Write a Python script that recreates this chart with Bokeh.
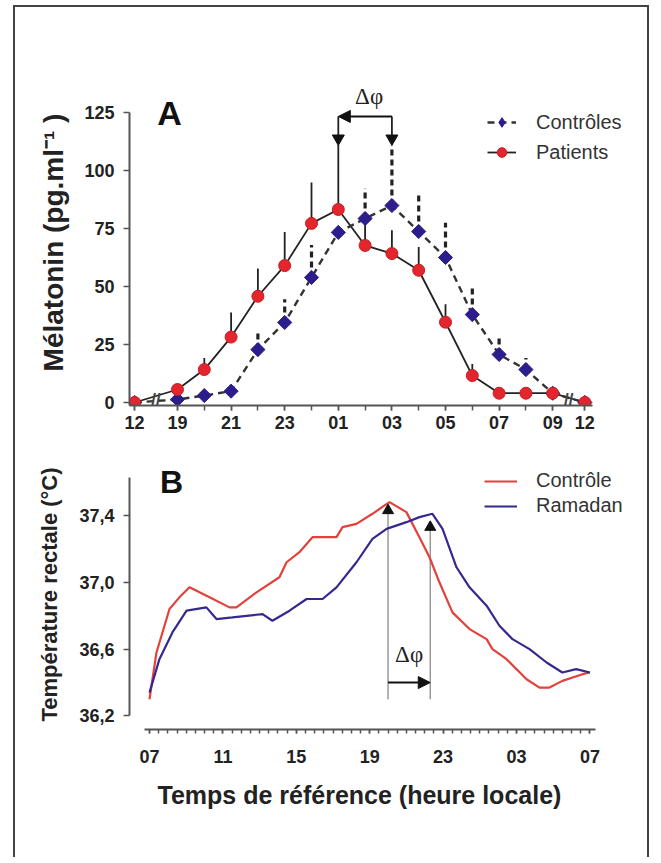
from bokeh.plotting import figure
from bokeh.models import (ColumnDataSource, FixedTicker, Legend, LegendItem, Label, Title,
                          Arrow, NormalHead, Range1d, CustomJSTickFormatter)
from bokeh.layouts import column
from bokeh.embed import file_html
from bokeh.resources import INLINE

# ---------------- Panel A data ----------------
a_pos = [-1.6, 0, 1, 2, 3, 4, 5, 6, 7, 8, 9, 10, 11, 12, 13, 14, 15.2]
a_hours = ["12", "19", "20", "21", "22", "23", "00", "01", "02", "03", "04",
           "05", "06", "07", "08", "09", "12"]
patients = [0, 5.6, 14.2, 28.2, 45.8, 59.0, 77.2, 83.2, 67.7, 64.2, 57.0,
            34.6, 11.6, 4.0, 4.0, 4.0, 0]
patients_sem = [0, 2, 5, 10.6, 12, 14.5, 17.6, 27.8, 12, 10, 10, 7.7, 5, 0, 0, 0, 0]
controls = [0, 1.3, 3.0, 4.9, 22.8, 34.5, 53.9, 73.3, 79.3, 84.9, 73.7,
            62.5, 37.9, 20.7, 14.2, 4.0, 0]
controls_sem = [0, 0, 0, 2, 8.7, 10, 14, 0, 13, 26, 17, 15, 12, 8.6, 5, 0, 0]
a_phase = [6, 8]          # 01 h (patients), 03 h (controls)
a_breaks = [-0.8, 14.6]

# ---------------- Panel B data ----------------
ctrl_h = [7.0, 7.38, 8.09, 8.63, 9.18, 10.27, 11.36, 11.74, 12.83, 14.08, 14.47,
          15.17, 15.88, 16.43, 17.19, 17.52, 18.28, 19.15, 19.81, 20.08, 21.0,
          21.71, 22.26, 22.8, 23.51, 24.44, 25.37, 25.69, 26.46, 27.55, 28.25,
          28.8, 29.5, 30.6, 31.0]
ctrl_t = [36.30, 36.58, 36.84, 36.91, 36.97, 36.91, 36.85, 36.85, 36.94, 37.03,
          37.12, 37.18, 37.27, 37.27, 37.27, 37.33, 37.35, 37.41, 37.46, 37.48,
          37.42, 37.27, 37.15, 37.00, 36.82, 36.72, 36.66, 36.60, 36.54, 36.42,
          36.37, 36.37, 36.41, 36.45, 36.46]
ram_h = [7.0, 7.54, 8.25, 9.02, 10.1, 10.65, 11.52, 13.16, 13.7, 14.63, 15.56,
         16.43, 17.19, 18.28, 19.15, 19.92, 21.0, 21.71, 22.42, 22.97, 23.73,
         24.44, 25.37, 26.07, 26.78, 27.71, 28.64, 29.5, 30.25, 31.0]
ram_t = [36.34, 36.54, 36.70, 36.83, 36.85, 36.78, 36.79, 36.81, 36.77, 36.83,
         36.90, 36.90, 36.97, 37.12, 37.26, 37.32, 37.36, 37.39, 37.41, 37.32,
         37.09, 36.97, 36.86, 36.74, 36.66, 36.60, 36.52, 36.46, 36.48, 36.46]
b_phase_h = [20.0, 22.3]
b_phase_t = [37.43, 37.33]
b_ticks = [7, 11, 15, 19, 23, 27, 31]
b_yticks = [36.2, 36.6, 37.0, 37.4]

FONT = "Liberation Sans"
RED = "#e3262d"
BLUE = "#2b1d8c"
AX = "#555555"
TXT = "#222222"
NAN = float("nan")


def style_axes(p):
    for ax in [p.xaxis[0], p.yaxis[0]]:
        ax.axis_line_color = AX
        ax.axis_line_width = 2
        ax.major_tick_line_color = AX
        ax.minor_tick_line_color = AX
        ax.major_tick_line_width = 1.5
        ax.minor_tick_line_width = 1.5
        ax.major_label_text_font = FONT
        ax.major_label_text_font_style = "bold"
        ax.major_label_text_font_size = "18px"
        ax.major_label_text_color = TXT
        ax.axis_label_text_font = FONT
        ax.axis_label_text_font_style = "bold"
        ax.axis_label_text_color = TXT
    p.xgrid.visible = False
    p.ygrid.visible = False
    p.outline_line_color = None


# ================= Panel A =================
pa = figure(frame_width=518, frame_height=326, min_border_left=114, min_border_right=0,
            min_border_top=72, min_border_bottom=34, output_backend="svg",
            toolbar_location=None, x_range=Range1d(-1.791, 17.537),
            y_range=Range1d(-1.293, 139.22))
style_axes(pa)
lab_pos = [a_pos[0]] + [a_pos[i] for i in range(1, 16) if (i % 2 == 1)] + [a_pos[-1]]
lab_txt = [a_hours[0]] + [a_hours[i] for i in range(1, 16) if (i % 2 == 1)] + [a_hours[-1]]
pa.xaxis.ticker = FixedTicker(ticks=lab_pos, minor_ticks=a_pos)
pa.xaxis.formatter = CustomJSTickFormatter(args=dict(pos=lab_pos, lab=lab_txt), code="""
    for (let i = 0; i < pos.length; i++) { if (Math.abs(pos[i] - tick) < 1e-6) return lab[i]; }
    return '';
""")
pa.xaxis.major_tick_out = 5
pa.xaxis.major_tick_in = 0
pa.xaxis.minor_tick_out = 5
pa.xaxis.minor_tick_in = 0
pa.xaxis.major_label_standoff = 5
pa.xaxis.bounds = (-1.791, 15.5)
pa.yaxis.ticker = FixedTicker(ticks=[0, 25, 50, 75, 100, 125], minor_ticks=[])
pa.yaxis.major_tick_out = 6
pa.yaxis.major_tick_in = 0
pa.yaxis.major_label_standoff = 9
pa.yaxis.bounds = (-1.293, 125)
pa.yaxis.axis_label = "Mélatonin (pg.ml⁻¹ )"
pa.yaxis.axis_label_text_font_size = "28px"
pa.yaxis.axis_label_standoff = 12

src_p = ColumnDataSource(dict(x=a_pos, y=patients,
                              top=[v + s for v, s in zip(patients, patients_sem)]))
src_c = ColumnDataSource(dict(x=a_pos, y=controls,
                              top=[v + s for v, s in zip(controls, controls_sem)]))

pa.segment(x0="x", y0="y", x1="x", y1="top", source=src_p, line_color=TXT, line_width=1.8)
pa.segment(x0="x", y0="y", x1="x", y1="top", source=src_c, line_color=TXT, line_width=3.2,
           line_dash="6 4")
lp = pa.line("x", "y", source=src_p, line_color=TXT, line_width=1.8)
lc = pa.line("x", "y", source=src_c, line_color="#333333", line_width=2.4, line_dash="7 5")
pa.scatter("x", "y", source=src_c, marker="square", angle=0.785, size=10,
           fill_color=BLUE, line_color=BLUE)
mp = pa.scatter("x", "y", source=src_p, marker="circle", size=12, fill_color=RED,
                line_color="#c81c22")
# legend-only glyph for the diamond (legend ignores marker rotation); NaN => not drawn in plot
mc_leg = pa.scatter(x=[NAN], y=[NAN], marker="diamond", size=17, fill_color=BLUE,
                    line_color=BLUE)

# phase-shift markers
arrow_y = 123.3
tri_y = 113.8
pa.segment(x0=a_phase, y0=[arrow_y] * 2, x1=a_phase, y1=[tri_y] * 2, line_color=TXT,
           line_width=1.8)
pa.scatter(x=a_phase, y=[tri_y] * 2, marker="inverted_triangle", size=12, color="#111111")
pa.add_layout(Arrow(end=NormalHead(size=12, fill_color="#111111", line_color="#111111"),
                    x_start=a_phase[1], y_start=arrow_y, x_end=a_phase[0], y_end=arrow_y,
                    line_width=2, line_color="#111111"))
pa.add_layout(Label(x=7.15, y=131.9, text="Δφ", text_font="Liberation Serif",
                    text_font_size="23px", text_align="center", text_baseline="middle",
                    text_color=TXT))
pa.add_layout(Label(x=-0.3, y=124.6, text="A", text_font=FONT, text_font_style="bold",
                    text_font_size="34px", text_align="center", text_baseline="middle",
                    text_color="#111111"))
for bx in a_breaks:
    pa.add_layout(Label(x=bx, y=1.2, text="//", text_font=FONT, text_font_style="bold",
                        text_font_size="17px", text_align="center", text_baseline="middle",
                        text_color="#444444"))

leg_a = Legend(items=[LegendItem(label="Contrôles", renderers=[lc, mc_leg]),
                      LegendItem(label="Patients", renderers=[lp, mp])],
               location=(358, 241), orientation="vertical", padding=0, margin=0,
               border_line_color=None, background_fill_alpha=0,
               label_text_font=FONT, label_text_font_size="20px", label_text_color="#333333",
               glyph_width=29, glyph_height=24, label_height=24, spacing=6, label_standoff=20)
pa.add_layout(leg_a, "center")

# ================= Panel B =================
pb = figure(frame_width=518, frame_height=270, min_border_left=114, min_border_right=0,
            min_border_top=20, min_border_bottom=128, output_backend="svg",
            toolbar_location=None, x_range=Range1d(5.91, 34.139),
            y_range=Range1d(36.119, 37.735))
style_axes(pb)
pb.xaxis.ticker = FixedTicker(ticks=b_ticks, minor_ticks=[7 + 0.5 * i for i in range(49)])
pb.xaxis.formatter = CustomJSTickFormatter(code="""
    const h = ((Math.round(tick) % 24) + 24) % 24;
    return (h < 10 ? '0' : '') + h;
""")
pb.xaxis.major_tick_out = 4
pb.xaxis.major_tick_in = 0
pb.xaxis.minor_tick_out = 4
pb.xaxis.minor_tick_in = 0
pb.xaxis.major_label_standoff = 16
pb.xaxis.bounds = (6.75, 31.3)
pb.yaxis.ticker = FixedTicker(ticks=b_yticks, minor_ticks=[])
pb.yaxis.formatter = CustomJSTickFormatter(code="return tick.toFixed(1).replace('.', ',');")
pb.yaxis.major_tick_out = 6
pb.yaxis.major_tick_in = 0
pb.yaxis.major_label_standoff = 9
pb.yaxis.bounds = (36.2, 37.63)
pb.yaxis.axis_label = "Température rectale (°C)"
pb.yaxis.axis_label_text_font_size = "22px"
pb.yaxis.axis_label_standoff = 14
pb.add_layout(Title(text="Temps de référence (heure locale)", align="left", offset=28,
                    text_font=FONT, text_font_style="bold", text_font_size="25px",
                    text_color=TXT, standoff=26), "below")

pb.segment(x0=b_phase_h, y0=[36.30] * 2, x1=b_phase_h, y1=b_phase_t, line_color="#9a9a9a",
           line_width=1.5)
lr = pb.line(ctrl_h, ctrl_t, line_color="#e2423b", line_width=2.2)
lb = pb.line(ram_h, ram_t, line_color="#34298f", line_width=2.2)
pb.scatter(x=b_phase_h, y=b_phase_t, marker="triangle", size=11, color="#111111")
pb.add_layout(Arrow(end=NormalHead(size=12, fill_color="#111111", line_color="#111111"),
                    x_start=b_phase_h[0], y_start=36.40, x_end=b_phase_h[1], y_end=36.40,
                    line_width=2, line_color="#111111"))
pb.add_layout(Label(x=sum(b_phase_h) / 2, y=36.57, text="Δφ",
                    text_font="Liberation Serif", text_font_size="23px",
                    text_align="center", text_baseline="middle", text_color=TXT))
pb.add_layout(Label(x=8.2, y=37.60, text="B", text_font=FONT, text_font_style="bold",
                    text_font_size="32px", text_align="center", text_baseline="middle",
                    text_color="#111111"))

leg_b = Legend(items=[LegendItem(label="Contrôle", renderers=[lr]),
                      LegendItem(label="Ramadan", renderers=[lb])],
               location=(355, 212), orientation="vertical", padding=0, margin=0,
               border_line_color=None, background_fill_alpha=0,
               label_text_font=FONT, label_text_font_size="20px", label_text_color="#333333",
               glyph_width=33, glyph_height=22, label_height=22, spacing=2, label_standoff=19)
pb.add_layout(leg_b, "center")

page = column(pa, pb, styles={"border": "2px solid #444444", "border-bottom": "0px",
                              "margin": "5px 0px 0px 13px"})
open("out.html", "w").write(file_html(page, INLINE))
